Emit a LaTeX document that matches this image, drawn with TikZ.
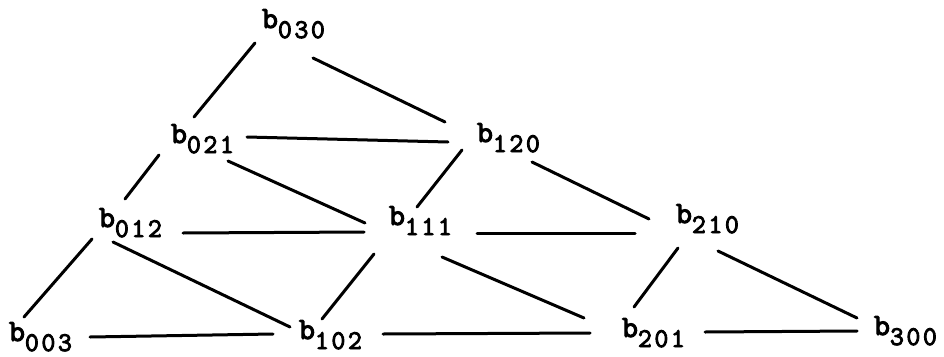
\documentclass[tikz,border=0pt]{standalone}
\usepackage{fontspec}
\newfontfamily\twfont{Latin Modern Mono}[FakeBold=3.5]
\usetikzlibrary{calc}
\newcommand\bsub[3]{{\fontsize{31}{31}\selectfont b}\raisebox{-10pt}{\fontsize{27}{27}\selectfont\makebox[16.5pt][l]{#1}\makebox[16.5pt][l]{#2}\makebox[16.5pt][l]{#3}}}
\tikzset{
  lbl/.style={inner sep=0pt, outer sep=0pt, anchor=base west, font=\twfont},
  edge/.style={line width=3pt, line cap=round}
}
\begin{document}
\begin{tikzpicture}[x=1pt,y=-1pt]
\useasboundingbox (0,0) rectangle (944,356);
\node[lbl] (n030) at (262,28) {\bsub{0}{3}{0}};
\node[lbl] (n021) at (171,143) {\bsub{0}{2}{1}};
\node[lbl] (n120) at (477,142) {\bsub{1}{2}{0}};
\node[lbl] (n012) at (99,227) {\bsub{0}{1}{2}};
\node[lbl] (n111) at (389,225) {\bsub{1}{1}{1}};
\node[lbl] (n210) at (676,223) {\bsub{2}{1}{0}};
\node[lbl] (n003) at (9,341) {\bsub{0}{0}{3}};
\node[lbl] (n102) at (299,339) {\bsub{1}{0}{2}};
\node[lbl] (n201) at (622,337) {\bsub{2}{0}{1}};
\node[lbl] (n300) at (874,335) {\bsub{3}{0}{0}};
\draw[edge] ($(n030.base west)+(-7,15)$) -- ($(n021.base west)+(23,-26)$);
\draw[edge] ($(n030.base west)+(51,30)$) -- ($(n120.base west)+(-32,-20)$);
\draw[edge] ($(n021.base west)+(76,-6)$) -- ($(n120.base west)+(-29,0)$);
\draw[edge] ($(n021.base west)+(57,18)$) -- ($(n111.base west)+(-24,-2)$);
\draw[edge] ($(n021.base west)+(-12,12)$) -- ($(n012.base west)+(26,-28)$);
\draw[edge] ($(n120.base west)+(-15,8)$) -- ($(n111.base west)+(28,-18)$);
\draw[edge] ($(n120.base west)+(55,20)$) -- ($(n210.base west)+(-27,-4)$);
\draw[edge] ($(n012.base west)+(84,6)$) -- ($(n111.base west)+(-25,7)$);
\draw[edge] ($(n111.base west)+(88,8)$) -- ($(n210.base west)+(-41,10)$);
\draw[edge] ($(n012.base west)+(-7,12)$) -- ($(n003.base west)+(15,-24)$);
\draw[edge] ($(n012.base west)+(14,15)$) -- ($(n102.base west)+(-9,-12)$);
\draw[edge] ($(n111.base west)+(-15,29)$) -- ($(n102.base west)+(23,-20)$);
\draw[edge] ($(n111.base west)+(53,32)$) -- ($(n201.base west)+(-38,-19)$);
\draw[edge] ($(n003.base west)+(81,-4)$) -- ($(n102.base west)+(-26,-5)$);
\draw[edge] ($(n102.base west)+(84,-5)$) -- ($(n201.base west)+(-32,-4)$);
\draw[edge] ($(n210.base west)+(2,25)$) -- ($(n201.base west)+(12,-30)$);
\draw[edge] ($(n210.base west)+(42,28)$) -- ($(n300.base west)+(-17,-17)$);
\draw[edge] ($(n201.base west)+(83,-5)$) -- ($(n300.base west)+(-17,-4)$);
\end{tikzpicture}
\end{document}
